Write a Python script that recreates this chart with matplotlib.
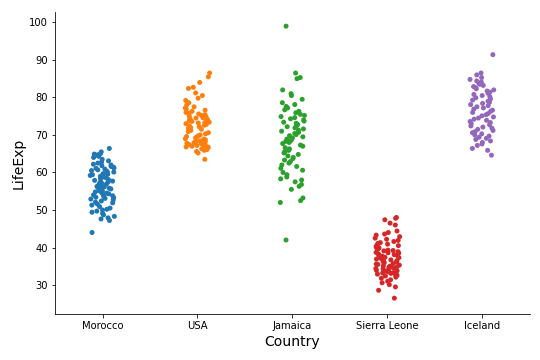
import numpy as np
import pandas as pd
import seaborn as sns
import matplotlib.pyplot as plt

# life expectancy values
countries = ['Morocco', 'USA', 'Jamaica', 'Sierra Leone', 'Iceland']

morocco = [44.0, 47.2, 47.6, 47.9, 48.3, 48.7, 49.1, 49.4, 49.7, 50.0, 50.2, 50.5,
           50.9, 51.3, 51.6, 51.9, 52.1, 52.4, 52.7, 52.9, 53.1, 53.3, 53.4, 53.6,
           53.8, 54.0, 54.1, 54.3, 54.5, 54.6, 54.8, 55.0, 55.1, 55.3, 55.5, 55.6,
           55.8, 56.0, 56.2, 56.3, 56.5, 56.7, 56.9, 57.0, 57.2, 57.4, 57.5, 57.7,
           57.9, 58.1, 58.3, 58.5, 58.6, 58.8, 59.0, 59.2, 59.4, 59.5, 59.7, 59.9,
           60.1, 60.3, 60.5, 60.7, 60.9, 61.1, 61.2, 61.4, 61.6, 61.8, 62.0, 62.2,
           62.5, 62.8, 63.1, 63.5, 64.0, 64.3, 64.5, 64.7, 64.9, 65.0, 65.5, 66.4]
usa = [63.5, 65.2, 65.6, 65.9, 66.1, 66.3, 66.5, 66.7, 66.8, 66.9, 67.0, 67.2,
       67.3, 67.4, 67.5, 67.7, 67.8, 67.9, 68.0, 68.2, 68.4, 68.5, 68.7, 68.9,
       69.0, 69.2, 69.4, 69.6, 69.8, 70.0, 70.3, 70.6, 70.9, 71.2, 71.5, 71.8,
       72.0, 72.2, 72.4, 72.6, 72.8, 73.0, 73.2, 73.3, 73.4, 73.6, 73.8, 74.0,
       74.1, 74.3, 74.5, 74.6, 74.8, 75.0, 75.2, 75.4, 75.6, 75.8, 76.0, 76.3,
       76.6, 76.9, 77.2, 77.5, 78.0, 78.6, 79.2, 79.8, 80.5, 81.2, 82.4, 82.7,
       84.0, 85.5, 86.5]
jamaica = [42.0, 52.0, 52.5, 53.2, 55.5, 56.3, 56.8, 57.5, 58.0, 58.3, 58.8, 59.4,
           60.0, 60.6, 61.1, 61.6, 62.0, 62.5, 62.9, 63.3, 63.7, 64.0, 64.4, 64.8,
           65.2, 65.5, 65.9, 66.3, 66.6, 67.0, 67.3, 67.7, 68.0, 68.3, 68.6, 68.9,
           69.2, 69.5, 69.8, 70.1, 70.4, 70.7, 71.0, 71.3, 71.6, 71.9, 72.2, 72.5,
           72.8, 73.1, 73.4, 73.7, 74.0, 74.3, 74.6, 74.9, 75.2, 75.5, 75.9, 76.3,
           76.7, 77.2, 77.6, 78.1, 78.6, 79.5, 80.5, 81.0, 82.0, 85.0, 85.3, 86.5,
           99.0]
sierra_leone = [26.5, 28.6, 29.5, 30.1, 30.6, 31.0, 31.4, 31.8, 32.1, 32.4, 32.6,
                32.7, 32.9, 33.1, 33.2, 33.3, 33.5, 33.7, 33.8, 33.9, 34.1, 34.3,
                34.4, 34.5, 34.7, 34.9, 35.0, 35.1, 35.3, 35.5, 35.6, 35.7, 35.9,
                36.1, 36.2, 36.3, 36.5, 36.7, 36.8, 36.9, 37.1, 37.3, 37.4, 37.5,
                37.7, 37.9, 38.0, 38.1, 38.3, 38.5, 38.6, 38.7, 38.9, 39.1, 39.2,
                39.3, 39.5, 39.7, 39.8, 39.9, 40.1, 40.3, 40.5, 40.7, 40.9, 41.1,
                41.3, 41.6, 41.9, 42.2, 42.5, 42.9, 43.3, 43.6, 44.0, 44.4, 46.0,
                46.5, 47.4, 47.8, 48.0]
iceland = [64.6, 65.9, 66.4, 67.2, 67.6, 68.0, 68.4, 68.8, 69.1, 69.4, 69.7, 70.0,
           70.3, 70.6, 70.9, 71.2, 71.5, 71.8, 72.1, 72.4, 72.7, 73.0, 73.3, 73.6,
           73.9, 74.2, 74.5, 74.8, 75.1, 75.4, 75.7, 76.0, 76.3, 76.6, 76.9, 77.2,
           77.5, 77.8, 78.1, 78.4, 78.7, 79.0, 79.3, 79.6, 79.9, 80.2, 80.5, 80.8,
           81.1, 81.4, 81.7, 82.0, 82.3, 82.6, 82.9, 83.2, 83.5, 83.8, 84.1, 84.4,
           84.8, 85.3, 86.0, 86.5, 91.4]

series = [morocco, usa, jamaica, sierra_leone, iceland]
df = pd.DataFrame({
    'Country': np.repeat(countries, [len(s) for s in series]),
    'LifeExp': np.concatenate(series),
})

np.random.seed(7)
fig = plt.figure(figsize=(7.5, 5), dpi=72)
ax = fig.add_axes([0.102, 0.128, 0.879, 0.839])
sns.stripplot(data=df, x='Country', y='LifeExp', hue='Country',
              palette='tab10', legend=False, jitter=0.13, size=5,
              linewidth=0, ax=ax)
sns.despine(ax=ax)
ax.set_xlim(-0.5, 4.5)
ax.set_ylim(22.3, 102.8)
ax.set_xlabel('Country', fontsize=14)
ax.set_ylabel('LifeExp', fontsize=14)
ax.tick_params(labelsize=10)

fig.savefig('out.png', dpi=72)
